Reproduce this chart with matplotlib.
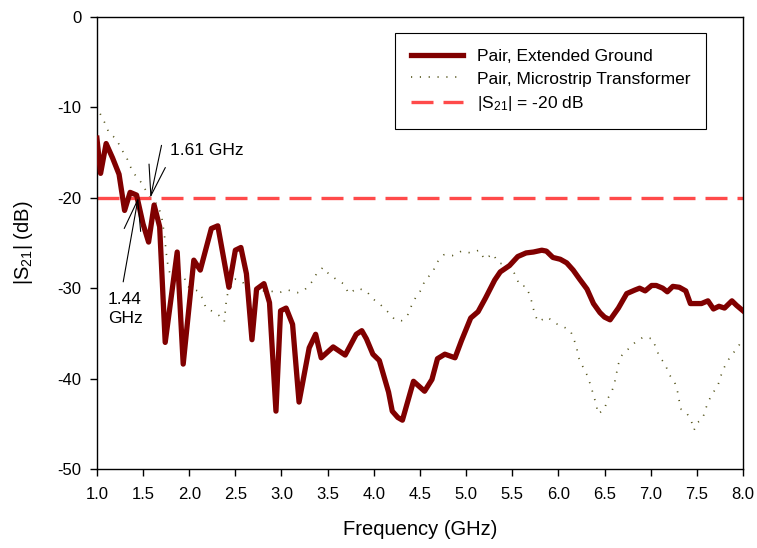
import matplotlib
matplotlib.use("Agg")
import matplotlib.pyplot as plt

plt.rcParams["font.family"] = ["Liberation Sans", "DejaVu Sans"]
plt.rcParams["mathtext.fontset"] = "custom"
plt.rcParams["mathtext.rm"] = "Liberation Sans"
plt.rcParams["mathtext.it"] = "Liberation Sans:italic"

# Pair, Extended Ground
ext_freq = [1.00, 1.04, 1.10, 1.17, 1.24, 1.30, 1.36, 1.43, 1.50, 1.56,
            1.62, 1.68, 1.74, 1.87, 1.935, 2.05, 2.12, 2.24, 2.31, 2.43,
            2.50, 2.56, 2.62, 2.68, 2.73, 2.81, 2.87, 2.94, 2.99, 3.05,
            3.12, 3.19, 3.30, 3.37, 3.43, 3.56, 3.69, 3.81, 3.87, 3.92,
            3.99, 4.06, 4.16, 4.20, 4.26, 4.31, 4.43, 4.55, 4.63, 4.69,
            4.77, 4.88, 4.95, 5.05, 5.13, 5.21, 5.31, 5.37, 5.47, 5.56,
            5.65, 5.73, 5.82, 5.87, 5.94, 6.02, 6.09, 6.16, 6.23, 6.31,
            6.38, 6.45, 6.50, 6.56, 6.65, 6.74, 6.83, 6.88, 6.94, 7.01,
            7.06, 7.13, 7.18, 7.24, 7.31, 7.38, 7.43, 7.55, 7.62, 7.68,
            7.74, 7.80, 7.88, 7.93, 8.00]
ext_s21 = [-13.4, -17.3, -14.0, -15.6, -17.4, -21.4, -19.4, -19.7, -22.9, -24.9,
           -20.8, -23.2, -36.0, -26.0, -38.4, -26.9, -28.0, -23.4, -23.1, -29.9,
           -25.8, -25.5, -28.4, -35.7, -30.1, -29.5, -31.6, -43.6, -32.5, -32.2,
           -34.0, -42.6, -36.6, -35.1, -37.7, -36.5, -37.4, -35.1, -34.7, -35.6,
           -37.3, -38.0, -41.5, -43.6, -44.3, -44.6, -40.3, -41.4, -40.1, -37.8,
           -37.3, -37.7, -35.8, -33.3, -32.6, -31.1, -29.1, -28.2, -27.5, -26.5,
           -26.1, -26.0, -25.8, -25.9, -26.6, -26.8, -27.2, -28.0, -29.0, -30.1,
           -31.7, -32.7, -33.2, -33.5, -32.2, -30.6, -30.2, -30.0, -30.3, -29.7,
           -29.7, -30.0, -30.4, -29.8, -29.9, -30.3, -31.7, -31.7, -31.4, -32.3,
           -32.0, -32.2, -31.4, -31.9, -32.5]

# Pair, Microstrip Transformer
mst_freq = [1.00, 1.04, 1.09, 1.13, 1.21, 1.27, 1.32, 1.36, 1.40, 1.48,
            1.57, 1.66, 1.70, 1.73, 1.76, 1.78, 1.82, 1.88, 1.95, 1.98,
            2.09, 2.15, 2.18, 2.24, 2.32, 2.38, 2.40, 2.42, 2.50, 2.58,
            2.64, 2.70, 2.78, 2.87, 2.97, 3.07, 3.17, 3.25, 3.33, 3.38,
            3.45, 3.51, 3.59, 3.67, 3.73, 3.82, 3.92, 3.98, 4.07, 4.16,
            4.23, 4.30, 4.37, 4.41, 4.46, 4.52, 4.55, 4.64, 4.68, 4.76,
            4.85, 4.95, 5.05, 5.14, 5.20, 5.29, 5.35, 5.43, 5.49, 5.54,
            5.58, 5.65, 5.69, 5.72, 5.74, 5.78, 5.88, 5.97, 6.06, 6.13,
            6.17, 6.20, 6.22, 6.27, 6.32, 6.35, 6.38, 6.41, 6.43, 6.50,
            6.53, 6.58, 6.61, 6.63, 6.65, 6.69, 6.76, 6.82, 6.92, 7.02,
            7.06, 7.10, 7.16, 7.19, 7.26, 7.29, 7.31, 7.33, 7.39, 7.44,
            7.47, 7.50, 7.56, 7.62, 7.68, 7.73, 7.76, 7.80, 7.86, 7.94,
            8.00]
mst_s21 = [-9.8, -10.8, -11.8, -12.8, -13.5, -14.7, -15.5, -16.5, -17.3, -18.3,
           -19.9, -20.8, -22.0, -24.0, -26.9, -28.0, -29.2, -28.5, -28.9, -29.8,
           -30.3, -31.2, -32.2, -32.5, -33.0, -33.7, -31.6, -30.4, -29.0, -29.3,
           -30.5, -30.3, -30.3, -30.3, -30.5, -30.2, -30.5, -30.2, -29.3, -28.4,
           -27.7, -28.4, -29.0, -29.5, -30.6, -30.0, -30.3, -31.1, -31.8, -32.7,
           -33.5, -33.6, -32.9, -31.9, -30.9, -30.1, -29.2, -28.2, -27.2, -26.3,
           -26.4, -25.9, -26.1, -25.8, -26.8, -26.2, -27.2, -27.4, -27.7, -28.7,
           -29.7, -29.8, -30.8, -31.8, -32.8, -33.7, -33.2, -33.9, -34.3, -34.7,
           -35.7, -36.7, -37.7, -38.8, -39.8, -40.8, -41.8, -42.9, -43.9, -43.4,
           -42.3, -41.4, -40.4, -39.4, -38.4, -37.4, -36.7, -36.1, -35.4, -35.6,
           -36.7, -37.7, -38.4, -39.4, -40.4, -41.4, -42.5, -43.4, -43.8, -44.7,
           -45.7, -44.9, -44.5, -42.6, -41.5, -40.7, -39.7, -38.7, -37.6, -36.6,
           -35.6]

threshold = -20
f_cross_ext = 1.447
f_cross_mst = 1.58
x_ticks = [1.0, 1.5, 2.0, 2.5, 3.0, 3.5, 4.0, 4.5, 5.0, 5.5, 6.0, 6.5, 7.0, 7.5, 8.0]
y_ticks = [0, -10, -20, -30, -40, -50]

fig = plt.figure(figsize=(7.57, 5.48), dpi=100)
ax = fig.add_axes([0.128, 0.1442, 0.8535, 0.8248])

ax.plot(ext_freq, ext_s21, color="#800000", lw=3.8, solid_joinstyle="round",
        label="Pair, Extended Ground", zorder=3)
ax.plot(mst_freq, mst_s21, color="#55551c", lw=1.2, linestyle=(0, (0.7, 4.6)),
        label="Pair, Microstrip Transformer", zorder=2)
ax.axhline(threshold, color="#ff4a4a", lw=2.4, dashes=(6.6, 3.0),
           label=r"$|\mathrm{S}_{21}|$ = -20 dB", zorder=2)

arrow = dict(arrowstyle="->,head_length=2.2,head_width=0.6", color="black",
             lw=0.8, mutation_scale=10, shrinkA=0, shrinkB=0)
ax.annotate("", xy=(f_cross_mst, threshold), xytext=(1.70, -14.2), arrowprops=arrow)
ax.annotate("", xy=(f_cross_ext, threshold), xytext=(1.285, -29.3), arrowprops=arrow)
ax.text(1.79, -14.75, "1.61 GHz", fontsize=12.5, ha="left", va="center")
ax.text(1.119, -32.3, "1.44\nGHz", fontsize=12.5, ha="left", va="center",
        linespacing=1.3)

ax.set_xlim(1.0, 8.0)
ax.set_ylim(-50, 0)
ax.set_xticks(x_ticks)
ax.set_xticklabels([f"{t:.1f}" for t in x_ticks])
ax.set_yticks(y_ticks)
ax.set_yticklabels([str(t) for t in y_ticks])
ax.tick_params(direction="out", length=5, width=1.0, labelsize=12)
ax.tick_params(axis="x", pad=8)
ax.tick_params(axis="y", pad=6)
for s in ax.spines.values():
    s.set_linewidth(1.0)

ax.set_xlabel("Frequency (GHz)", fontsize=14.5, labelpad=13)
ax.set_ylabel(r"$|\mathrm{S}_{21}|$ (dB)", fontsize=14.5, labelpad=16)

leg = ax.legend(loc="upper right", bbox_to_anchor=(0.943, 0.965),
                borderaxespad=0, fontsize=12.5, fancybox=False,
                edgecolor="black", framealpha=1, handlelength=3.0,
                handletextpad=0.8, labelspacing=0.45, borderpad=0.9)
leg.get_frame().set_linewidth(0.8)

fig.savefig("out.png", dpi=100)
